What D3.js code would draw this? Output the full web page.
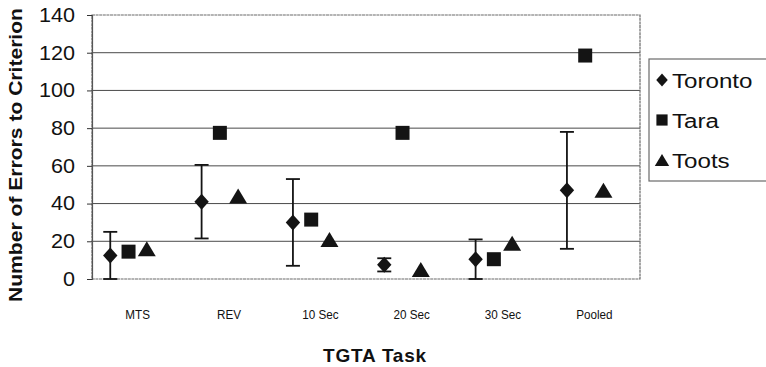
<!DOCTYPE html>
<html>
<head>
<meta charset="utf-8">
<script src="https://cdn.jsdelivr.net/npm/d3@7"></script>
<style>
  html, body { margin: 0; padding: 0; background: #fff; }
  svg { display: block; font-family: "Liberation Sans", Arial, sans-serif; }
</style>
</head>
<body>
<svg id="chart" width="766" height="367"></svg>
<script>
// Task categories along the x axis
const tasks = ["MTS", "REV", "10 Sec", "20 Sec", "30 Sec", "Pooled"];

// Errors to criterion for each subject
const toronto    = [12.5, 41, 30, 7.5, 10.5, 47];
const torontoErr = [12.5, 19.5, 23, 3.5, 10.5, 31];
const tara       = [14.5, 77.5, 31.5, 77.5, 10.5, 118.5];
const toots      = [16, 44, 21, 5, 19, 47];

const yTicks = [0, 20, 40, 60, 80, 100, 120, 140];

const series = [
  { name: "Toronto", values: toronto, shape: "diamond", offset: -0.3 },
  { name: "Tara",    values: tara,    shape: "square",  offset: -0.1 },
  { name: "Toots",   values: toots,   shape: "triangle", offset: 0.1 }
];

const svg = d3.select("#chart");
const plot = { left: 92, right: 640, top: 15, bottom: 279 };

const x = d3.scaleBand().domain(tasks).range([plot.left, plot.right]).padding(0);
const y = d3.scaleLinear().domain([0, 140]).range([plot.bottom, plot.top]);
const bw = x.bandwidth();
const cx = (task, off) => x(task) + bw / 2 + off * bw;

const ink = "#141414";

// Marker paths, centred on the origin
function shapePath(shape, s) {
  if (shape === "diamond") {
    const w = 7.2 * s, h = 8 * s;
    return `M0,${-h}L${w},0L0,${h}L${-w},0Z`;
  }
  if (shape === "square") {
    const h = 7 * s;
    return `M${-h},${-h}H${h}V${h}H${-h}Z`;
  }
  const w = 9 * s, h = 7.5 * s;
  return `M0,${-h}L${w},${h}L${-w},${h}Z`;
}

// Horizontal gridlines
svg.append("g")
  .selectAll("line")
  .data(yTicks.filter(t => t > 0 && t < 140))
  .join("line")
  .attr("x1", plot.left).attr("x2", plot.right)
  .attr("y1", d => y(d)).attr("y2", d => y(d))
  .attr("stroke", "#4a4a4a").attr("stroke-width", 1);

// Plot frame
svg.append("rect")
  .attr("x", plot.left).attr("y", plot.top)
  .attr("width", plot.right - plot.left).attr("height", plot.bottom - plot.top)
  .attr("fill", "none").attr("stroke", "#6a6a6a").attr("stroke-width", 1.2)
  .attr("stroke-dasharray", "3,0.6");

// Y axis with ticks on the left
const yAxis = svg.append("g")
  .attr("transform", `translate(${plot.left},0)`)
  .call(d3.axisLeft(y).tickValues(yTicks).tickSize(5).tickPadding(13));
yAxis.select(".domain").attr("stroke", "#555").attr("stroke-width", 1.2);
yAxis.selectAll(".tick line").attr("stroke", "#333");
yAxis.selectAll(".tick text")
  .attr("font-size", 20).attr("fill", "#111")
  .attr("font-family", "'Liberation Sans', Arial, sans-serif")
  .attr("transform", "scale(1.08,1)")
  .attr("x", -17 / 1.08);

// Category labels under the plot
svg.append("g")
  .selectAll("text")
  .data(tasks)
  .join("text")
  .attr("transform", d => `translate(${x(d) + bw / 2},319) scale(0.9,1)`)
  .attr("text-anchor", "middle")
  .attr("font-size", 13)
  .attr("fill", "#111")
  .text(d => d);

// Axis titles
svg.append("text")
  .attr("transform", `translate(22,155) rotate(-90)`)
  .attr("text-anchor", "middle")
  .attr("font-size", 19).attr("font-weight", "bold").attr("fill", "#111")
  .attr("textLength", 294).attr("lengthAdjust", "spacingAndGlyphs")
  .text("Number of Errors to Criterion");

svg.append("text")
  .attr("x", 375).attr("y", 362)
  .attr("text-anchor", "middle")
  .attr("font-size", 19).attr("font-weight", "bold").attr("fill", "#111")
  .attr("letter-spacing", 0.8)
  .text("TGTA Task");

// Error bars for Toronto
const eb = svg.append("g").attr("stroke", ink).attr("stroke-width", 1.8);
tasks.forEach((t, i) => {
  const px = cx(t, series[0].offset);
  const lo = Math.max(0, toronto[i] - torontoErr[i]);
  const hi = toronto[i] + torontoErr[i];
  eb.append("line").attr("x1", px).attr("x2", px).attr("y1", y(lo)).attr("y2", y(hi));
  eb.append("line").attr("x1", px - 7).attr("x2", px + 7).attr("y1", y(lo)).attr("y2", y(lo));
  eb.append("line").attr("x1", px - 7).attr("x2", px + 7).attr("y1", y(hi)).attr("y2", y(hi));
});

// Markers
series.forEach(s => {
  svg.append("g")
    .selectAll("path")
    .data(tasks.map((t, i) => ({ t, v: s.values[i] })))
    .join("path")
    .attr("transform", d => `translate(${cx(d.t, s.offset)},${y(d.v)})`)
    .attr("d", shapePath(s.shape, 1))
    .attr("fill", ink);
});

// Legend
const lg = svg.append("g");
lg.append("rect")
  .attr("x", 649).attr("y", 59).attr("width", 130).attr("height", 122)
  .attr("fill", "#fff").attr("stroke", "#6a6a6a").attr("stroke-width", 1.2);
const legendY = d3.scalePoint().domain(series.map(s => s.name)).range([80, 160]);
series.forEach(s => {
  const ly = legendY(s.name);
  lg.append("path")
    .attr("transform", `translate(662,${ly})`)
    .attr("d", shapePath(s.shape, 0.8))
    .attr("fill", ink);
  lg.append("text")
    .attr("transform", `translate(672,${ly + 7.5}) scale(1.15,1)`)
    .attr("font-size", 21).attr("fill", "#111")
    .text(s.name);
});
</script>
</body>
</html>
